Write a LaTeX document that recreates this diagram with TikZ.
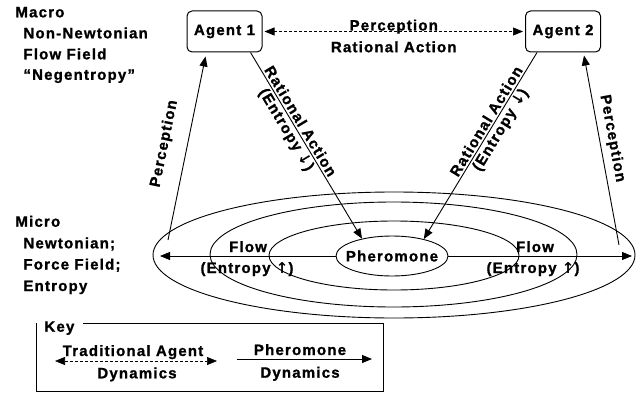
\documentclass[tikz,border=0pt]{standalone}
\usepackage{fontspec}
\setmainfont{Liberation Sans Bold}[LetterSpace=8, FakeBold=1.2]
\newfontfamily\arrfont{DejaVu Sans Bold}
\newcommand{\uparr}{{\arrfont ↑}}
\newcommand{\dnarr}{{\arrfont ↓}}
\usetikzlibrary{arrows.meta,calc,shapes.geometric}
\begin{document}
\begin{tikzpicture}[x=1pt,y=-1pt,
  font=\fontsize{15}{18}\selectfont,
  line width=0.9pt,
  tip/.style={-{Triangle[length=10pt,width=8pt]}},
  bothtips/.style={{Triangle[length=10pt,width=8pt]}-{Triangle[length=10pt,width=8pt]}},
  dashline/.style={dash pattern=on 3pt off 2pt, line width=0.7pt},
  agentbox/.style={draw, rounded corners=5pt, minimum width=75pt, minimum height=41pt, line width=1pt, inner sep=0pt},
  txt/.style={anchor=base west, inner sep=0pt},
  ctxt/.style={anchor=base, inner sep=0pt}]
\useasboundingbox (0,0) rectangle (639,393);

% flow-field ellipses
\draw (394,255) ellipse [x radius=241, y radius=63];
\draw (393.5,254.5) ellipse [x radius=183.5, y radius=52.5];
\draw (394,255.5) ellipse [x radius=125, y radius=34.5];
\node[ellipse, draw, minimum width=112pt, minimum height=40pt, inner sep=0pt] (ph) at (392,256) {\makebox[0pt]{Pheromone}};

% flow arrows
\coordinate (lt) at (160,256);
\coordinate (rt) at (632,256);
\draw[tip] (ph.west) -- (lt);
\draw[tip] (ph.east) -- (rt);

% agents
\node[agentbox] (a1) at (224.5,31.5) {Agent 1};
\node[agentbox] (a2) at (563,31.5) {Agent 2};

\draw[dashline, bothtips, shorten <=2pt, shorten >=2pt] (a1) -- (a2)
  node[midway, anchor=base, inner sep=0pt, yshift=1pt] (tp) {Perception}
  node[midway, anchor=base, inner sep=0pt, yshift=-20.7pt] (tr) {Rational Action};

% rational action
\draw[tip] ($(a1.south east)+(-12,0)$) -- (ph.150)
  node[pos=0.39, sloped, above, inner sep=2pt] (r1a) {Rational Action}
  node[pos=0.39, sloped, below, inner sep=2pt] (r1b) {(Entropy \dnarr)};
\draw[tip] ($(a2.south west)+(12,0)$) -- (ph.28)
  node[pos=0.39, sloped, above, inner sep=2pt] (r2a) {Rational Action}
  node[pos=0.39, sloped, below, inner sep=2pt] (r2b) {(Entropy \dnarr)};

% perception
\coordinate (pl) at (168,240);
\coordinate (pr) at (619,245);
\draw[tip] (pl) -- ($(a1.south west)+(19,4)$)
  node[pos=0.5, sloped, above=12pt] (p1) {Perception};
\draw[tip] (pr) -- ($(a2.south west)+(59,3)$)
  node[pos=0.55, sloped, above=2pt] (p2) {Perception};

% flow labels
\node[ctxt] (fl) at (248,252) {Flow};
\node[ctxt] (el) at (247,273) {(Entropy \uparr)};
\node[ctxt] (fr) at (535,252) {Flow};
\node[ctxt] (er) at (533,273) {(Entropy \uparr)};

% macro / micro texts
\node[txt] (m1) at (15,17.3) {Macro};
\node[txt] (m2) at (23,38.3) {Non-Newtonian};
\node[txt] (m3) at (23,59.3) {Flow Field};
\node[txt] (m4) at (23,79.8) {“Negentropy”};
\node[txt] (n1) at (15,226.7) {Micro};
\node[txt] (n2) at (23,248.3) {Newtonian;};
\node[txt] (n3) at (23,269.5) {Force Field;};
\node[txt] (n4) at (23,291) {Entropy};

% key
\draw[line width=0.8pt] (83,323) -- (383,323) -- (383,391) -- (36,391) -- (36,323);
\node[txt] (key) at (44,331.7) {Key};
\node[ctxt] (ka) at (133,356) {Traditional Agent};
\node[ctxt] (kb) at (137,378.3) {Dynamics};
\coordinate (k1l) at (55,361);
\coordinate (k1r) at (217,361);
\draw[dashline, bothtips] (k1l) -- (k1r);
\node[ctxt] (kc) at (300,355) {Pheromone};
\node[ctxt] (kd) at (300,377.7) {Dynamics};
\coordinate (k2l) at (237,359);
\coordinate (k2r) at (372,359);
\draw[tip] (k2l) -- (k2r);
\end{tikzpicture}
\end{document}
